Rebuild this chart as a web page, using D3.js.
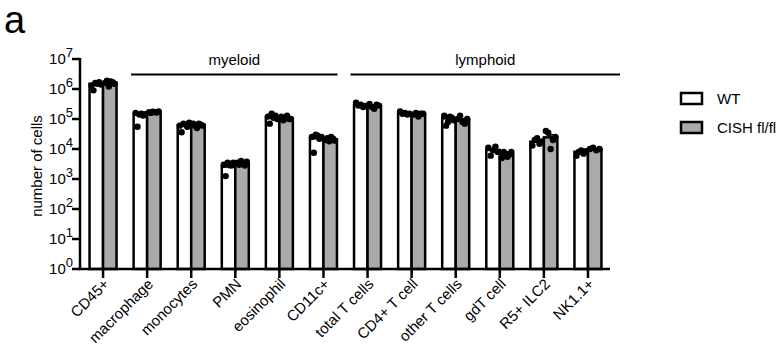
<!DOCTYPE html>
<html><head><meta charset="utf-8">
<script src="https://cdn.jsdelivr.net/npm/d3@7"></script>
<style>
body{margin:0;background:#fff;}
text{font-family:Arial,"Liberation Sans",Helvetica,sans-serif;fill:#000;}
</style></head>
<body><svg id="c" width="780" height="362"></svg>
<script>
const categories = ["CD45+","macrophage","monocytes","PMN","eosinophil","CD11c+","total T cells","CD4+ T cell","other T cells","gdT cell","R5+ ILC2","NK1.1+"];
const seriesNames = ["WT","CISH fl/fl"];
const wtMean   = [1.5e6,1.4e5,6.0e4,2.6e3,1.1e5,2.3e4,2.9e5,1.55e5,1.05e5,9.3e3,1.75e4,8.1e3];
const cishMean = [1.6e6,1.7e5,6.3e4,3.3e3,1.05e5,2.1e4,2.6e5,1.44e5,9.3e4,6.6e3,2.45e4,9.8e3];
const wtPoints = [
  [1.3e6,0.9e6,1.6e6,1.5e6,1.7e6,1.4e6],
  [1.6e5,0.55e5,1.4e5,1.5e5,1.3e5,1.45e5],
  [6e4,3.6e4,7e4,6.5e4,5.5e4,7.5e4],
  [3e3,1.25e3,3.5e3,3.2e3,2.8e3,3.5e3],
  [1.2e5,7e4,1.5e5,1.1e5,1.3e5,1.0e5],
  [2.5e4,7.5e3,3e4,2.8e4,2.2e4,2.5e4],
  [3.5e5,2.8e5,3e5,2.5e5,2.7e5],
  [1.8e5,1.5e5,1.6e5,1.4e5,1.5e5],
  [1.3e5,6e4,8e4,1.2e5,1.1e5,9e4],
  [1.1e4,6e3,9e3,1.2e4,8e3],
  [1.3e4,2.0e4,2.3e4,1.5e4,1.8e4],
  [6e3,8e3,9e3,7e3,8.5e3]
];
const cishPoints = [
  [1.6e6,1.9e6,1.2e6,1.8e6,1.7e6,1.5e6],
  [1.7e5,1.6e5,1.75e5,1.7e5,1.65e5,1.8e5],
  [7e4,6e4,5e4,7e4,6.5e4,6e4],
  [3.5e3,3e3,4e3,3.2e3,2.8e3,3.8e3],
  [1.2e5,9e4,1.1e5,1.3e5,1.0e5,1.0e5],
  [2e4,2.3e4,1.8e4,2.5e4,2.2e4,1.9e4],
  [3.2e5,2.5e5,2.2e5,3e5,2.8e5],
  [1.4e5,1.6e5,1.2e5,1.5e5,1.5e5],
  [1.0e5,1.3e5,8e4,7e4,1.0e5],
  [5e3,8e3,7e3,5.5e3,6.5e3,8e3],
  [4e4,3.5e4,1.0e4,2.0e4,2.5e4],
  [1.0e4,1.1e4,9e3,1.0e4]
];
const yTicks = [1,10,100,1e3,1e4,1e5,1e6,1e7];
const groups = [
  {label:"myeloid", from:"macrophage", to:"CD11c+"},
  {label:"lymphoid", from:"total T cells", to:"NK1.1+"}
];

const svg = d3.select("#c");
const x = d3.scaleBand().domain(categories).range([81,610]).paddingInner(0).paddingOuter(0);
const y = d3.scaleLog().domain([1,1e7]).range([269,59]);
const bw = 13.5;

// panel label
svg.append("text").attr("x",4).attr("y",33).style("font-size","38px").text("a");

// bars
const g = svg.append("g");
categories.forEach((c,i)=>{
  const cx = x(c)+x.bandwidth()/2;
  [[wtMean[i],"#fff",wtPoints[i],-1],[cishMean[i],"#aaaaaa",cishPoints[i],0]].forEach(([m,fill,pts,off])=>{
    const x0 = cx + off*bw;
    g.append("rect").attr("x",x0).attr("y",y(m)).attr("width",bw).attr("height",y(1)-y(m))
      .attr("fill",fill).attr("stroke","#000").attr("stroke-width",2.5);
    // error bar (SEM)
    const sem = d3.deviation(pts)/Math.sqrt(pts.length);
    const xm = x0+bw/2;
    g.append("line").attr("x1",xm).attr("x2",xm).attr("y1",y(m+sem)).attr("y2",y(Math.max(m-sem,1)))
      .attr("stroke","#000").attr("stroke-width",1.5);
    g.append("line").attr("x1",xm-3).attr("x2",xm+3).attr("y1",y(m+sem)).attr("y2",y(m+sem)).attr("stroke","#000").attr("stroke-width",1.5);
    const n = pts.length;
    pts.forEach((p,j)=>{
      const px = x0 + 2 + (bw-4)*(n>1? j/(n-1):0.5);
      g.append("circle").attr("cx",px).attr("cy",y(p)).attr("r",3.2).attr("fill","#000");
    });
  });
});

// y axis
svg.append("line").attr("x1",80).attr("x2",80).attr("y1",58).attr("y2",270).attr("stroke","#000").attr("stroke-width",2.5);
yTicks.forEach(t=>{
  const yy = y(t);
  svg.append("line").attr("x1",72).attr("x2",80).attr("y1",yy).attr("y2",yy).attr("stroke","#000").attr("stroke-width",2.5);
  const e = Math.round(Math.log10(t));
  const tx = svg.append("text").attr("x",73).attr("y",yy+5).attr("text-anchor","end").style("font-size","15px");
  tx.append("tspan").text("10");
  tx.append("tspan").attr("dy",-7).style("font-size","13px").text(e);
});
svg.append("text").attr("transform","translate(42,166) rotate(-90)").attr("text-anchor","middle").style("font-size","15px").text("number of cells");

// x axis
svg.append("line").attr("x1",79).attr("x2",610).attr("y1",269).attr("y2",269).attr("stroke","#000").attr("stroke-width",2.5);
categories.forEach(c=>{
  const cx = x(c)+x.bandwidth()/2;
  svg.append("line").attr("x1",cx).attr("x2",cx).attr("y1",269).attr("y2",278).attr("stroke","#000").attr("stroke-width",2.5);
  svg.append("text").attr("transform",`translate(${cx+7},285) rotate(-45)`).attr("text-anchor","end").style("font-size","15px").text(c);
});

// group brackets
groups.forEach((gr,k)=>{
  const x1 = x(gr.from)+ (k===0? 6: 5);
  const x2 = k===0 ? x(gr.to)+x.bandwidth()-8 : 620;
  svg.append("line").attr("x1",x1).attr("x2",x2).attr("y1",74.5).attr("y2",74.5).attr("stroke","#000").attr("stroke-width",2);
  svg.append("text").attr("x",(x1+x2)/2).attr("y",65).attr("text-anchor","middle").style("font-size","15px").text(gr.label);
});

// legend
const legFills = ["#fff","#aaaaaa"];
seriesNames.forEach((s,i)=>{
  const ly = 93 + i*29;
  svg.append("rect").attr("x",681).attr("y",ly).attr("width",21).attr("height",11).attr("fill",legFills[i]).attr("stroke","#000").attr("stroke-width",2.5);
  svg.append("text").attr("x",717).attr("y",ly+11).style("font-size","15px").text(s);
});
</script></body></html>
